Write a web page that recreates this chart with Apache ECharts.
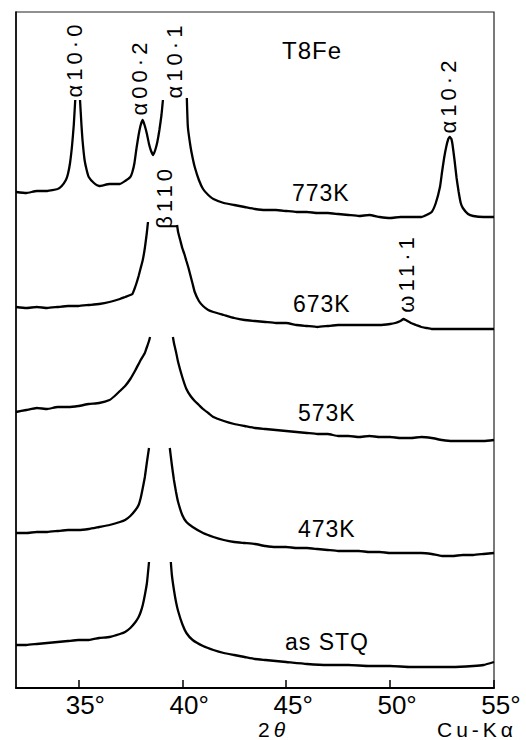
<!DOCTYPE html>
<html>
<head>
<meta charset="utf-8">
<script src="https://cdn.jsdelivr.net/npm/echarts@6/dist/echarts.min.js"></script>
<style>
  html, body { margin: 0; padding: 0; background: #fff; }
  #chart { width: 526px; height: 740px; }
  /* the annotation typeface is set wide */
  #chart text[style*="22px"], #chart text[style*="21px"] { letter-spacing: 4px; }
  #chart text[style*="23px"], #chart text[style*="24px"] { letter-spacing: 1px; }
</style>
</head>
<body>
<div id="chart"></div>
<script>
// X-ray diffraction patterns of T8Fe (Cu-Kα), aged at several temperatures.
// Intensities are in arbitrary counts, already stacked with an offset per pattern.
// A null marks where a reflection runs off scale under its label.

const tt773 = [32.0,32.5,33.0,33.5,34.0,34.2,34.4,34.5,34.6,34.7,34.78,34.85,34.96,35.08,35.15,35.2,35.3,35.4,35.5,35.75,36.0,36.5,37.0,37.25,37.5,37.6,37.7,37.8,37.9,38.0,38.1,38.2,38.3,38.4,38.5,38.6,38.7,38.8,38.9,39.0,39.07,39.6,40.22,40.27,40.4,40.5,40.6,40.8,41.0,41.25,41.5,42.0,42.5,43.0,43.5,44.0,44.5,45.0,45.5,46.0,46.5,47.0,47.5,48.0,48.5,49.0,49.5,50.0,50.5,51.0,51.5,51.75,52.0,52.2,52.4,52.5,52.6,52.7,52.8,52.87,52.95,53.0,53.1,53.2,53.3,53.4,53.5,53.75,54.0,54.5,55.0];
const i773 = [496,495,497,497,499,502,508,514,525,543,563,588,null,588,563,548,528,518,511,505,502,504,504,507,511,516,525,540,553,563,568,562,554,544,537,533,538,546,558,573,588,null,590,561,541,530,521,508,499,493,489,485,483,481,479,478,478,477,476,476,475,475,474,473,472,473,471,470,471,471,471,473,476,485,501,516,530,541,549,551,549,544,528,510,496,485,480,474,472,471,471];

const tt673 = [32.0,32.5,33.0,33.5,34.0,34.5,35.0,35.5,36.0,36.5,37.0,37.25,37.5,37.6,37.7,37.8,37.9,38.0,38.1,38.2,38.3,38.35,39.05,39.75,39.8,39.9,40.0,40.1,40.2,40.3,40.4,40.5,40.6,40.8,41.0,41.25,41.5,42.0,42.5,43.0,43.5,44.0,44.5,45.0,45.5,46.0,46.5,47.0,47.5,48.0,48.5,49.0,49.5,50.0,50.25,50.5,50.65,50.75,51.0,51.25,51.5,51.75,52.0,53.0,54.0,55.0];
const i673 = [381,380,381,380,381,382,382,383,384,386,389,391,393,394,399,405,412,420,428,440,456,466,null,463,456,448,440,434,427,420,412,404,396,387,382,378,376,373,370,368,367,366,365,365,363,362,361,362,363,363,363,363,363,364,365,367,369,368,365,363,361,360,359,359,359,359];

const tt573 = [32.0,32.5,33.0,33.5,34.0,34.5,35.0,35.5,36.0,36.5,36.75,37.0,37.25,37.5,37.75,38.0,38.2,38.3,38.4,38.45,39.0,39.55,39.6,39.7,39.8,40.0,40.2,40.4,40.6,40.8,41.0,41.25,41.5,42.0,42.5,43.0,43.5,44.0,44.5,45.0,45.5,46.0,46.5,47.0,47.5,48.0,48.5,49.0,49.5,50.0,50.5,51.0,51.5,52.0,52.5,53.0,53.5,54.0,54.5,55.0];
const i573 = [276,278,280,279,281,281,282,284,285,288,292,297,302,309,318,328,335,341,347,351,null,351,345,336,326,311,299,292,287,283,279,275,271,267,264,262,260,259,258,257,256,255,254,254,252,252,251,252,251,251,250,250,251,250,248,247,247,247,247,248];

const tt473 = [32.0,32.5,33.0,33.5,34.0,34.5,35.0,35.5,36.0,36.5,37.0,37.25,37.5,37.75,37.9,38.0,38.1,38.2,38.3,38.4,38.9,39.4,39.5,39.6,39.7,39.8,40.0,40.2,40.5,41.0,41.5,42.0,42.5,43.0,43.5,44.0,44.5,45.0,45.5,46.0,46.5,47.0,47.5,48.0,48.5,49.0,49.5,50.0,50.5,51.0,51.5,52.0,52.5,53.0,53.5,54.0,54.5,55.0];
const i473 = [155,155,156,156,157,158,158,159,161,163,166,168,172,178,183,190,200,211,226,240,null,240,223,208,196,186,173,166,161,155,151,148,146,145,144,142,141,141,140,140,139,138,137,137,137,136,136,135,135,135,135,134,132,132,133,133,134,135];

const ttSTQ = [32.0,32.5,33.0,33.5,34.0,34.5,35.0,35.5,36.0,36.5,37.0,37.25,37.5,37.75,37.9,38.0,38.1,38.2,38.3,38.4,38.9,39.45,39.5,39.6,39.7,39.8,40.0,40.2,40.5,41.0,41.5,42.0,42.5,43.0,43.5,44.0,45.0,46.0,47.0,48.0,49.0,50.0,51.0,52.0,53.0,54.0,54.5,55.0];
const iSTQ = [43,43,44,45,46,47,48,48,50,51,54,56,60,66,71,76,83,93,105,126,null,126,113,98,86,77,64,55,48,42,38,35,33,31,29,28,26,24,23,23,22,22,21,21,21,22,23,26];

const patternNames = ['773K', '673K', '573K', '473K', 'as STQ'];
const patternAngles = [tt773, tt673, tt573, tt473, ttSTQ];
const patternCounts = [i773, i673, i573, i473, iSTQ];

const angleTicks = [35, 40, 45, 50, 55];
const reflectionLabels = ['α10·0', 'α00·2', 'α10·1', 'α10·2', 'β110', 'ω11·1'];

const chart = echarts.init(document.getElementById('chart'), null, { renderer: 'svg', width: 526, height: 740 });

const series = patternNames.map((name, s) => ({
  type: 'line',
  name: name,
  data: patternAngles[s].map((t, k) => [t, patternCounts[s][k] === null ? '-' : patternCounts[s][k]]),
  symbol: 'none',
  smooth: 0.15,
  connectNulls: false,
  lineStyle: { color: '#000', width: 2.3 },
  animation: false
}));

const FONT = '"Liberation Sans", Arial, sans-serif';

// label placement (pixels): peak labels stand vertically over their reflections
const reflectionPos = [[74, 59], [139, 77], [174, 60], [448, 95], [164, 197], [406, 273]];
const conditionPos = [[292, 193], [293, 304], [298, 413], [298, 529], [285, 642]];

const graphics = [];
reflectionLabels.forEach((txt, k) => {
  graphics.push({
    type: 'text', x: reflectionPos[k][0], y: reflectionPos[k][1], rotation: Math.PI / 2,
    style: { text: txt, fontSize: 22, fontFamily: FONT, fill: '#000',
             textAlign: 'center', textVerticalAlign: 'middle', verticalAlign: 'middle' }
  });
});
patternNames.forEach((txt, k) => {
  graphics.push({
    type: 'text', x: conditionPos[k][0], y: conditionPos[k][1],
    style: { text: txt, fontSize: 23, fontFamily: FONT, fill: '#000',
             textAlign: 'left', textVerticalAlign: 'middle', verticalAlign: 'middle' }
  });
});
graphics.push({
  type: 'text', x: 282, y: 50,
  style: { text: 'T8Fe', fontSize: 24, fontFamily: FONT, fill: '#000',
           textAlign: 'left', textVerticalAlign: 'middle', verticalAlign: 'middle' }
});
// axis captions under the scale
graphics.push({
  type: 'text', x: 258, y: 729.5,
  style: { text: '{n|2}{t|θ}', fill: '#000', textAlign: 'left', textVerticalAlign: 'middle', verticalAlign: 'middle',
           rich: { n: { fontSize: 21, fontFamily: FONT },
                   t: { fontSize: 21, fontFamily: FONT, fontStyle: 'italic', padding: [0, 0, 0, 4] } } }
});
graphics.push({
  type: 'text', x: 437, y: 729.5,
  style: { text: 'Cu-Kα', fontSize: 21, fontFamily: FONT, fill: '#000',
           textAlign: 'left', textVerticalAlign: 'middle', verticalAlign: 'middle' }
});

chart.setOption({
  backgroundColor: '#fff',
  animation: false,
  grid: { left: 16, right: 32, top: 12, bottom: 52, show: true, borderColor: '#222', borderWidth: 1.2 },
  xAxis: {
    type: 'value', min: 32, max: 55,
    axisLine: { show: true, onZero: false, lineStyle: { color: '#000', width: 2 } },
    axisTick: { show: true, inside: true, length: 8, customValues: angleTicks, lineStyle: { color: '#000', width: 1.5 } },
    axisLabel: {
      customValues: angleTicks, formatter: v => v + '°', color: '#000',
      fontFamily: FONT, fontSize: 26, margin: 4, lineHeight: 26,
      padding: [0, 0, 0, 14], showMinLabel: true, showMaxLabel: true
    },
    splitLine: { show: false }
  },
  yAxis: {
    type: 'value', min: 0, max: 676,
    axisLine: { show: true, onZero: false, lineStyle: { color: '#000', width: 1.5 } },
    axisTick: { show: false }, axisLabel: { show: false }, splitLine: { show: false }
  },
  series: series,
  graphic: graphics
});
</script>
</body>
</html>
